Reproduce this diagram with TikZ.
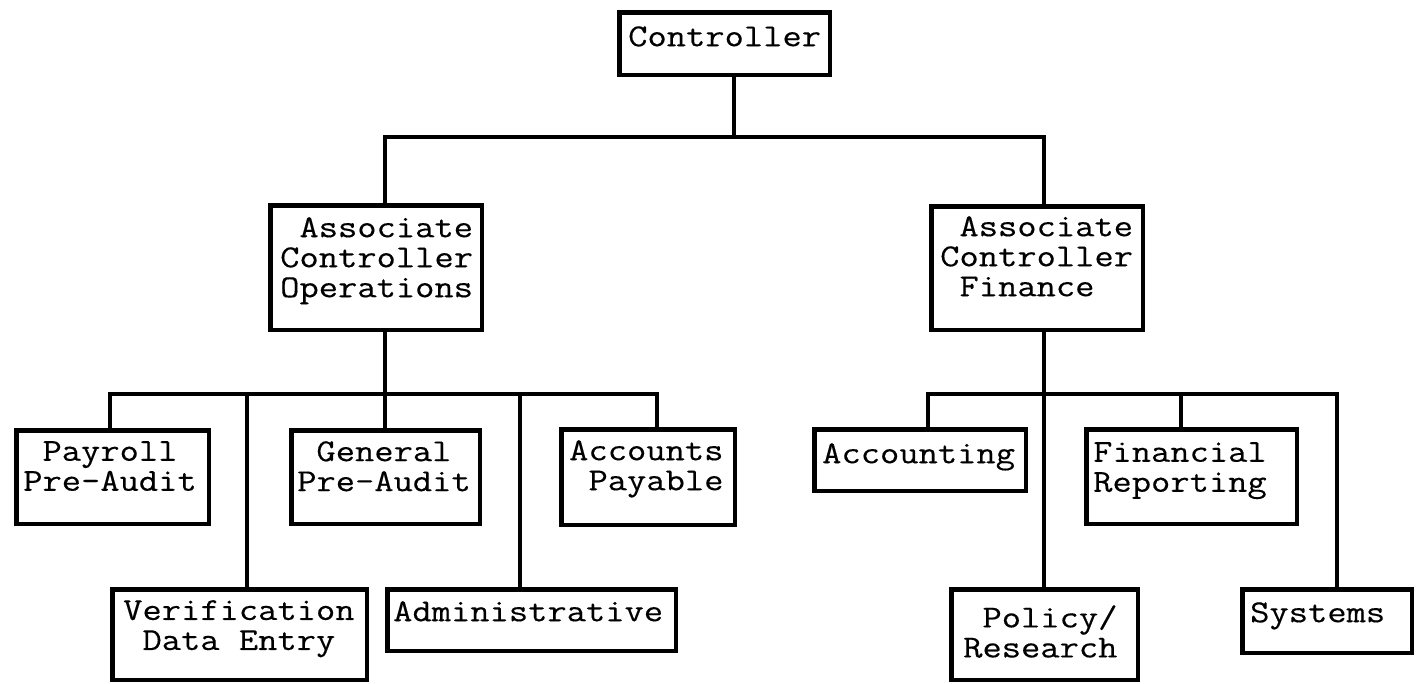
\documentclass[tikz,border=0pt]{standalone}
\usepackage{fontspec}
\newfontfamily\typewriter{Latin Modern Mono}[FakeStretch=1.17,FakeBold=0.3]
\begin{document}
\begin{tikzpicture}[x=1pt,y=-1pt,
  box/.style={draw=black,line width=4.5pt,fill=white,inner sep=0pt,anchor=north west},
  lbl/.style={inner sep=0pt,anchor=north west,align=left,
    font=\typewriter\fontsize{32}{30}\selectfont,execute at begin node=\strut},
  wire/.style={draw=black,line width=4pt,line join=miter}]
\useasboundingbox[fill=white] (0,0) rectangle (1419,683);

% junction points of the connector buses
\coordinate (b0)  at (734,137);
\coordinate (b0l) at (385,137);
\coordinate (b0r) at (1044,137);
\coordinate (t1) at (110,394);
\coordinate (t2) at (247,394);
\coordinate (t3) at (385,394);
\coordinate (t4) at (520,394);
\coordinate (t5) at (657,394);
\coordinate (u1) at (928,394);
\coordinate (u2) at (1044,394);
\coordinate (u3) at (1181,394);
\coordinate (u4) at (1337,394);

% boxes
\node[box,minimum width=210.5,minimum height=62.5] (ctrl) at (617.25,10.25) {};
\node[box,minimum width=211.5,minimum height=124.5] (ops) at (268.25,203.25) {};
\node[box,minimum width=211.5,minimum height=123.5] (fin) at (929.25,204.25) {};
\node[box,minimum width=192.5,minimum height=93.5] (pay) at (14.25,428.25) {};
\node[box,minimum width=188.5,minimum height=93.5] (gen) at (289.25,428.25) {};
\node[box,minimum width=173.5,minimum height=95.5] (ap) at (559.25,427.25) {};
\node[box,minimum width=254.5,minimum height=90.5] (ver) at (110.25,587.25) {};
\node[box,minimum width=288.5,minimum height=61.5] (adm) at (385.25,587.25) {};
\node[box,minimum width=211.5,minimum height=61.5] (acc) at (812.25,427.25) {};
\node[box,minimum width=210.5,minimum height=94.5] (frep) at (1084.25,427.25) {};
\node[box,minimum width=186.5,minimum height=90.5] (pol) at (949.25,587.25) {};
\node[box,minimum width=169.5,minimum height=63.5] (sys) at (1240.25,587.25) {};

% labels (placed by first baseline minus strut height)
\node[lbl] (ctrlT) at (628,25) {Controller};
\node[lbl] (opsT) at (280,217) {\hphantom{X}Associate\\Controller\\Operations};
\node[lbl] (finT) at (940,216) {\hphantom{X}Associate\\Controller\\\hphantom{X}Finance};
\node[lbl] (payT) at (23,441) {\hphantom{X}Payroll\\Pre-Audit};
\node[lbl] (genT) at (297,441) {\hphantom{X}General\\Pre-Audit};
\node[lbl] (apT) at (569,440) {Accounts\\\hphantom{X}Payable};
\node[lbl] (verT) at (123,600) {Verification\\\hphantom{X}Data Entry};
\node[lbl] (admT) at (393,600) {Administrative};
\node[lbl] (accT) at (822,442) {Accounting};
\node[lbl] (frepT) at (1093,442) {Financial\\Reporting};
\node[lbl] (polT) at (963,605) {\hphantom{X}Policy/\\Research};
\node[lbl] (sysT) at (1250,601) {Systems};

% connectors
\draw[wire] (b0 |- ctrl.south) -- (b0);
\draw[wire] (b0l |- ops.north) -- (b0l) -- (b0r) -- (b0r |- fin.north);

\draw[wire] (t3 |- ops.south) -- (t3);
\draw[wire] (t1 |- pay.north) -- (t1) -- (t5) -- (t5 |- ap.north);
\draw[wire] (t2) -- (t2 |- ver.north);
\draw[wire] (t3) -- (t3 |- gen.north);
\draw[wire] (t4) -- (t4 |- adm.north);

\draw[wire] (u2 |- fin.south) -- (u2);
\draw[wire] (u1 |- acc.north) -- (u1) -- (u4) -- (u4 |- sys.north);
\draw[wire] (u2) -- (u2 |- pol.north);
\draw[wire] (u3) -- (u3 |- frep.north);
\end{tikzpicture}
\end{document}
